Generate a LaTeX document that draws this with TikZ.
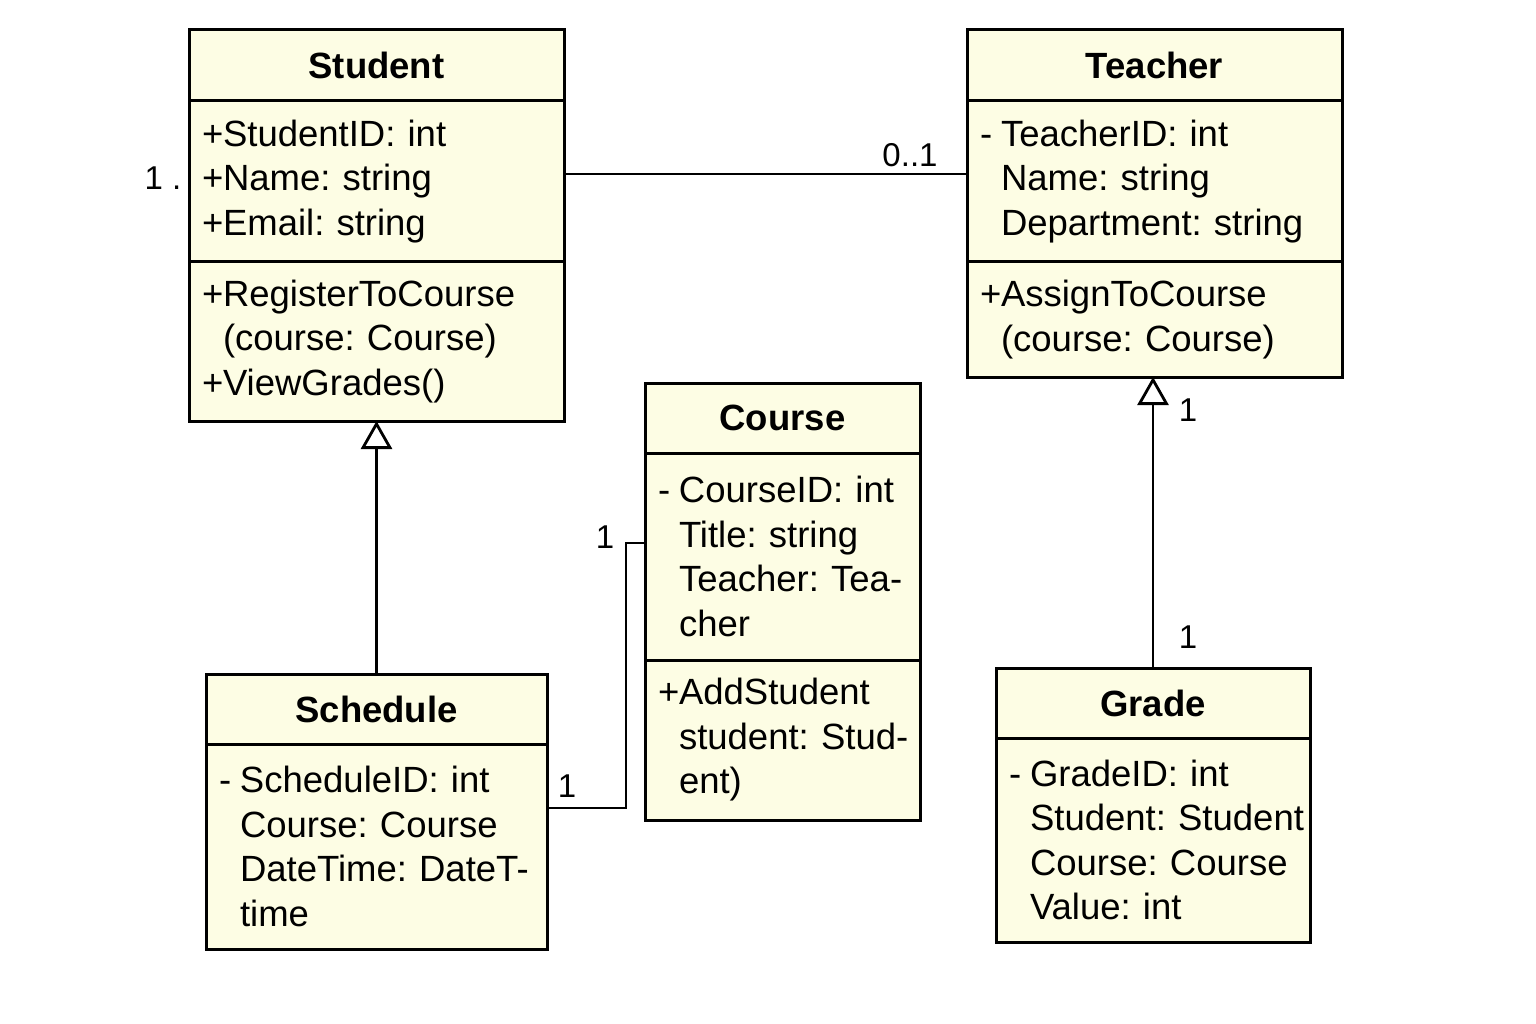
\documentclass[tikz,border=0pt]{standalone}
\usepackage{fontspec}
\setmainfont{Liberation Sans}
\usetikzlibrary{arrows.meta, positioning}
\definecolor{classfill}{RGB}{253,253,228}
\frenchspacing
\newcommand{\umlpub}[1]{\mbox{\makebox[21pt][l]{+}#1}}
\newcommand{\umlpriv}[1]{\mbox{\makebox[21pt][l]{-}#1}}
\newcommand{\umlcont}[1]{\mbox{\hspace*{21pt}#1}}

\begin{document}
\begin{tikzpicture}[x=1pt, y=-1pt,
  head/.style={rectangle, draw=black, line width=3pt, fill=classfill, outer sep=0pt, inner xsep=13pt, inner ysep=0pt, font=\fontsize{36.5}{44.5}\selectfont\bfseries, align=center, anchor=north west},
  part/.style={rectangle, draw=black, line width=3pt, fill=classfill, outer sep=0pt, inner xsep=13pt, inner ysep=0pt, font=\fontsize{36.5}{44.5}\selectfont, align=left},
  assoc/.style={draw=black, line width=2.8pt},
  inherit/.style={draw=black, line width=2.8pt, -{Triangle[open, length=28pt, width=31pt]}},
  mult/.style={font=\fontsize{33}{40}\selectfont, inner sep=0pt},
]
\useasboundingbox (0,0) rectangle (1536,1024);

\node[head, text width=349pt, minimum height=71pt] (stu) at (189,30) {Student};
\node[part, text width=349pt, minimum height=161pt, below=0pt of stu] (stuattr) {\umlpub{StudentID: int}\\ \umlpub{Name: string}\\ \umlpub{Email: string}};
\node[part, text width=349pt, minimum height=159pt, below=0pt of stuattr] (stumeth) {\umlpub{RegisterToCourse}\\ \umlcont{(course: Course)}\\ \umlpub{ViewGrades()}};

\node[head, text width=349pt, minimum height=71pt] (tea) at (967,30) {Teacher};
\node[part, text width=349pt, minimum height=161pt, below=0pt of tea] (teaattr) {\umlpriv{TeacherID: int}\\ \umlcont{Name: string}\\ \umlcont{Department: string}};
\node[part, text width=349pt, minimum height=115pt, below=0pt of teaattr] (teameth) {\umlpub{AssignToCourse}\\ \umlcont{(course: Course)}};

\node[head, text width=249pt, minimum height=70pt] (crs) at (645,383) {Course};
\node[part, text width=249pt, minimum height=207pt, below=0pt of crs] (crsattr) {\umlpriv{CourseID: int}\\ \umlcont{Title: string}\\ \umlcont{Teacher: Tea-}\\ \umlcont{cher}};
\node[part, text width=249pt, minimum height=160pt, below=0pt of crsattr] (crsmeth) {\umlpub{AddStudent}\\ \umlcont{student: Stud-}\\ \umlcont{ent)}};

\node[head, text width=315pt, minimum height=70pt] (sch) at (206,674) {Schedule};
\node[part, text width=315pt, minimum height=205pt, below=0pt of sch] (schattr) {\umlpriv{ScheduleID: int}\\ \umlcont{Course: Course}\\ \umlcont{DateTime: DateT-}\\ \umlcont{time}};

\node[head, text width=288pt, minimum height=70pt] (grd) at (996,668) {Grade};
\node[part, text width=288pt, minimum height=204pt, below=0pt of grd] (grdattr) {\umlpriv{GradeID: int}\\ \umlcont{Student: Student}\\ \umlcont{Course: Course}\\ \umlcont{Value: int}};

\draw[assoc] ([yshift=7.5pt]stuattr.east) -- ([yshift=7.5pt]teaattr.west);
\draw[inherit] (sch.north) -- (stumeth.south);
\draw[inherit] (grd.north) -- (grd.north |- teameth.south);
\draw[assoc] ([yshift=-64pt]schattr.north east) -- ++(79,0) |- ([yshift=-90pt]crsattr.north west);

\node[mult] (mstu) at (163,178) {1 .};
\node[mult] (mtea) at (910,155) {0..1};
\node[mult] (mteagen) at (1188,410) {1};
\node[mult] (mgrd) at (1188,637) {1};
\node[mult] (mcrs) at (605,537) {1};
\node[mult] (msch) at (567,786) {1};
\end{tikzpicture}
\end{document}
